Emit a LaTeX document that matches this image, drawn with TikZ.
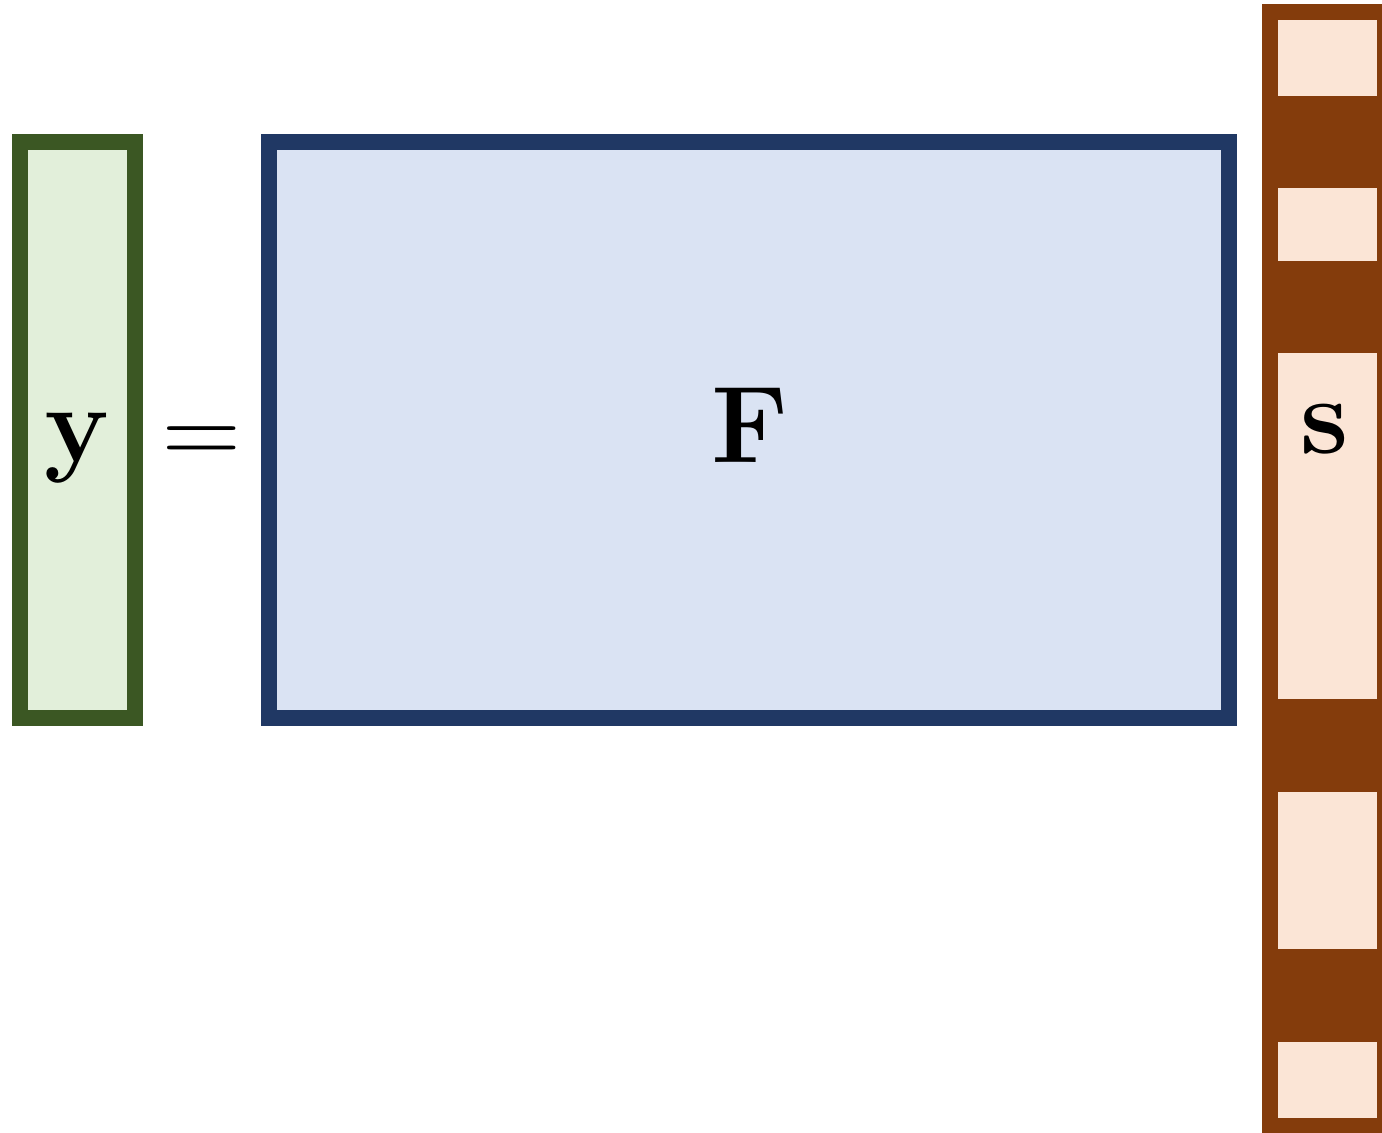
\RequirePackage{fix-cm}
\documentclass[tikz,border=0pt]{standalone}
\usepackage{amsmath,amssymb}
\usepackage{tikz}
\usetikzlibrary{positioning}

\definecolor{ygreen}{HTML}{3B5723}
\definecolor{ylight}{HTML}{E2EFDA}
\definecolor{fblue}{HTML}{203864}
\definecolor{flight}{HTML}{DAE3F3}
\definecolor{sbrown}{HTML}{843C0C}
\definecolor{slight}{HTML}{FBE5D6}

\begin{document}
\begin{tikzpicture}[x=0.01cm, y=-0.01cm, every node/.style={font=\fontsize{31}{37}\selectfont}, yvec/.style={draw=ygreen, fill=ylight, line width=0.16cm, minimum width=1.15cm, minimum height=5.76cm, inner sep=0pt}, fmat/.style={draw=fblue, fill=flight, line width=0.16cm, minimum width=9.6cm, minimum height=5.76cm, inner sep=0pt}, svec/.style={fill=sbrown, minimum width=1.31cm, minimum height=11.3cm, inner sep=0pt}, scell/.style={fill=slight}, lab/.style={anchor=base, inner sep=0pt}]
	\useasboundingbox (0,0) rectangle (1382,1132);
	\clip (0,0) rectangle (1382,1132);
	\node[yvec] (y) at (77.5,430) {};
	\node[fmat] (F) at (749,430) {};
	\node[svec] (s) at (1327.5,569) {};
	\foreach \a/\b in {20/96, 188/261, 353/699, 792/949, 1042/1118} {\fill[scell] (1278,\a) rectangle (1377,\b);}
	\node[lab] (ylab) at (77.5,461) {$\mathbf{y}$};
	\node[lab] (eq) at (202,465) {$=$};
	\node[lab] (Flab) at (750.5,462) {$\mathbf{F}$};
	\node[lab] (slab) at (1325,453) {$\mathbf{s}$};
\end{tikzpicture}
\end{document}
